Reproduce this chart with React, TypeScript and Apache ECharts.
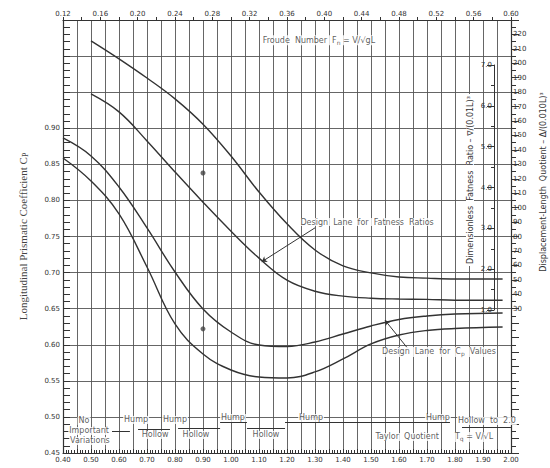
import React, { useEffect, useRef } from 'react';
import * as echarts from 'echarts';

// Taylor quotient Tq = V/√L along the bottom, Froude number Fn = V/√gL along the top
// Design-lane curves for the dimensionless fatness ratio ∇/(0.01L)³ (inner right scale)
const fatnessUpper: [number, number][] = [
  [0.5, 7.59], [0.6, 7.15], [0.7, 6.68], [0.8, 6.17], [0.9, 5.55], [1.0, 4.77],
  [1.1, 3.89], [1.2, 3.11], [1.3, 2.47], [1.4, 2.08], [1.5, 1.91], [1.6, 1.81],
  [1.7, 1.78], [1.8, 1.76], [1.97, 1.76],
];
const fatnessLower: [number, number][] = [
  [0.5, 6.29], [0.6, 5.85], [0.7, 5.14], [0.8, 4.38], [0.9, 3.64], [1.0, 2.93],
  [1.1, 2.27], [1.2, 1.73], [1.3, 1.46], [1.4, 1.34], [1.5, 1.29], [1.6, 1.27],
  [1.7, 1.26], [1.8, 1.24], [1.97, 1.24],
];

// Design-lane curves for the longitudinal prismatic coefficient Cp
const cpUpper: [number, number][] = [
  [0.4, 0.8865], [0.5, 0.8616], [0.6, 0.8186], [0.7, 0.7618], [0.8, 0.7008], [0.9, 0.6496],
  [1.0, 0.6177], [1.1, 0.5997], [1.2, 0.5976], [1.3, 0.6038], [1.4, 0.6149], [1.5, 0.626],
  [1.6, 0.635], [1.7, 0.6399], [1.8, 0.6426], [1.97, 0.644],
];
const cpLower: [number, number][] = [
  [0.4, 0.8588], [0.5, 0.8269], [0.6, 0.7812], [0.7, 0.7078], [0.8, 0.6288], [0.9, 0.5872],
  [1.0, 0.565], [1.1, 0.5553], [1.2, 0.554], [1.3, 0.5623], [1.4, 0.5803], [1.5, 0.6011],
  [1.6, 0.6135], [1.7, 0.6198], [1.8, 0.6225], [1.97, 0.6246],
];

// Plotted reference points (Tq, Cp)
const markedPoints: [number, number][] = [[0.9, 0.838], [0.9, 0.622]];

// Scale ranges
const tqRange = [0.4, 2.0];
const fnRange = [0.12, 0.6];
const cpRange = [0.45, 1.05];
const fatnessRange = [-2.5, 8.1];
const fatnessScale = [1, 7];
const displacementRange = [-70, 230];
const displacementLabelled = [30, 220];

// Hump / hollow zones along the bottom strip: [Tq start, Tq end, Cp level]
const zoneRules: [number, number, number][] = [
  [0.575, 0.639, 0.4805],
  [0.668, 0.782, 0.4833],
  [0.811, 0.961, 0.4847],
  [0.961, 1.057, 0.493],
  [1.057, 1.193, 0.4847],
  [1.193, 1.782, 0.493],
  [1.825, 2.0, 0.4861],
];

// Lettering: [text, Tq, Cp]
const lettering: [string, number, number][] = [
  ['Froude  Number  F{s|n} = V/√gL', 1.314, 1.022],
  ['Design  Lane  for  Fatness  Ratios', 1.486, 0.77],
  ['Design  Lane  for  C{s|p}  Values', 1.743, 0.59],
  ['No', 0.475, 0.4944],
  ['Important', 0.493, 0.4805],
  ['Variations', 0.496, 0.4667],
  ['Hump', 0.661, 0.4958],
  ['Hump', 0.8, 0.4958],
  ['Hump', 1.007, 0.4985],
  ['Hollow', 0.729, 0.475],
  ['Hollow', 0.875, 0.475],
  ['Hollow', 1.125, 0.475],
  ['Hump', 1.286, 0.4985],
  ['Hump', 1.739, 0.4985],
  ['Hollow  to  2.0', 1.914, 0.4944],
  ['Taylor  Quotient', 1.629, 0.4722],
  ['T{s|q} = V/√L', 1.868, 0.4722],
];

// Leader arrows: [from Tq, from Cp, to Tq, to Cp]
const leaders: [number, number, number, number][] = [
  [1.3, 0.762, 1.11, 0.715],
  [1.63, 0.5955, 1.55, 0.634],
];

const ink = '#333333';
const gridInk = '#555555';
const letterFont = 'DejaVu Sans';

const subStyle = { fontSize: 6, padding: [4, 0, 0, 0], fontFamily: letterFont, color: ink };

function curve(data: [number, number][], yAxisIndex: number) {
  return {
    type: 'line',
    xAxisIndex: 0,
    yAxisIndex,
    data,
    symbol: 'none',
    smooth: 0.4,
    lineStyle: { color: ink, width: 1.4 },
    z: 5,
  };
}

function buildOption() {
  return {
    animation: false,
    backgroundColor: '#ffffff',
    grid: [
      { left: 63, right: 39, top: 20, bottom: 15, containLabel: false, outerBoundsMode: 'none' },
      { left: 494, width: 10, top: 65, height: 245, containLabel: false, outerBoundsMode: 'none' },
    ],
    xAxis: [
      {
        type: 'value',
        gridIndex: 0,
        position: 'bottom',
        min: tqRange[0],
        max: tqRange[1],
        interval: 0.05,
        axisLine: { show: true, onZero: false, lineStyle: { color: ink, width: 1.2 } },
        axisTick: { show: true, inside: true, length: 4, lineStyle: { color: ink } },
        minorTick: { show: true, splitNumber: 5, length: 3, lineStyle: { color: ink } },
        axisLabel: {
          fontSize: 7,
          color: ink,
          margin: 3,
          fontFamily: letterFont,
          hideOverlap: false,
          showMinLabel: true,
          showMaxLabel: true,
          formatter: (v: number) => (Math.round(v * 100) % 10 === 0 ? v.toFixed(2) : ''),
        },
        splitLine: { show: true, lineStyle: { color: gridInk, width: 0.9 } },
      },
      {
        type: 'value',
        gridIndex: 0,
        position: 'top',
        min: fnRange[0],
        max: fnRange[1],
        interval: 0.04,
        axisLine: { show: true, onZero: false, lineStyle: { color: ink, width: 1.2 } },
        axisTick: { show: true, length: 3, lineStyle: { color: ink } },
        minorTick: { show: true, splitNumber: 2, length: 3, lineStyle: { color: ink } },
        axisLabel: {
          fontSize: 7,
          color: ink,
          margin: 3,
          fontFamily: letterFont,
          hideOverlap: false,
          showMinLabel: true,
          showMaxLabel: true,
          formatter: (v: number) => v.toFixed(2),
        },
        splitLine: { show: false },
      },
      { type: 'value', gridIndex: 1, show: false, min: 0, max: 1 },
    ],
    yAxis: [
      {
        type: 'value',
        gridIndex: 0,
        position: 'left',
        min: cpRange[0],
        max: cpRange[1],
        interval: 0.05,
        axisLine: { show: true, onZero: false, lineStyle: { color: ink, width: 1.2 } },
        axisTick: { show: true, inside: true, length: 7, lineStyle: { color: ink } },
        minorTick: { show: true, splitNumber: 5, length: 7, lineStyle: { color: ink } },
        axisLabel: {
          fontSize: 7,
          color: ink,
          margin: 3,
          fontFamily: letterFont,
          hideOverlap: false,
          showMinLabel: true,
          formatter: (v: number) => (v <= 0.9001 ? v.toFixed(2) : ''),
        },
        splitLine: { show: true, lineStyle: { color: gridInk, width: 0.9 } },
        name: 'Longitudinal Prismatic Coefficient C{s|P}',
        nameLocation: 'middle',
        nameRotate: 90,
        nameGap: 34,
        nameTextStyle: {
          fontFamily: 'Liberation Serif',
          fontSize: 11,
          color: '#444',
          rich: { s: { fontSize: 8, padding: [5, 0, 0, 0], fontFamily: 'Liberation Serif', color: '#444' } },
        },
      },
      {
        type: 'value',
        gridIndex: 0,
        position: 'right',
        min: displacementRange[0],
        max: displacementRange[1],
        interval: 10,
        axisLine: { show: true, onZero: false, lineStyle: { color: ink, width: 1.2 } },
        axisTick: { show: true, length: 8, lineStyle: { color: ink } },
        minorTick: { show: true, splitNumber: 2, length: 5, lineStyle: { color: ink } },
        axisLabel: {
          fontSize: 7,
          color: ink,
          margin: 2,
          fontFamily: letterFont,
          hideOverlap: false,
          formatter: (v: number) =>
            v >= displacementLabelled[0] - 0.01 && v <= displacementLabelled[1] + 0.01 ? String(Math.round(v)) : '',
        },
        splitLine: { show: false },
      },
      {
        type: 'value',
        gridIndex: 0,
        position: 'right',
        show: false,
        min: fatnessRange[0],
        max: fatnessRange[1],
      },
      {
        type: 'value',
        gridIndex: 1,
        position: 'left',
        min: fatnessScale[0],
        max: fatnessScale[1],
        interval: 1,
        axisLine: { show: true, onZero: false, lineStyle: { color: ink, width: 1 } },
        axisTick: { show: true, length: 7, lineStyle: { color: ink } },
        minorTick: { show: true, splitNumber: 2, length: 3, lineStyle: { color: ink } },
        axisLabel: {
          fontSize: 7,
          color: ink,
          margin: 2,
          fontFamily: letterFont,
          hideOverlap: false,
          showMinLabel: true,
          showMaxLabel: true,
          formatter: (v: number) => v.toFixed(1),
        },
        splitLine: { show: false },
      },
    ],
    graphic: [
      {
        type: 'text',
        x: 470,
        y: 180,
        rotation: Math.PI / 2,
        z: 10,
        style: {
          text: 'Dimensionless  Fatness  Ratio – ∇/(0.01L)³',
          fontFamily: letterFont,
          fontSize: 8,
          fill: ink,
          align: 'center',
          verticalAlign: 'middle',
          backgroundColor: '#fff',
          padding: [0, 2],
        },
      },
      {
        type: 'text',
        x: 543,
        y: 182,
        rotation: Math.PI / 2,
        style: {
          text: 'Displacement-Length  Quotient – Δ/(0.010L)³',
          fontFamily: letterFont,
          fontSize: 8,
          fill: ink,
          align: 'center',
          verticalAlign: 'middle',
        },
      },
    ],
    series: [
      curve(fatnessUpper, 2),
      curve(fatnessLower, 2),
      curve(cpUpper, 0),
      curve(cpLower, 0),
      {
        type: 'scatter',
        xAxisIndex: 0,
        yAxisIndex: 0,
        data: markedPoints,
        symbolSize: 5,
        itemStyle: { color: '#444' },
        z: 6,
      },
      {
        type: 'lines',
        coordinateSystem: 'cartesian2d',
        xAxisIndex: 0,
        yAxisIndex: 0,
        polyline: false,
        symbol: ['none', 'none'],
        lineStyle: { color: ink, width: 1, opacity: 1 },
        data: zoneRules.map(([a, b, c]) => ({ coords: [[a, c], [b, c]] })),
        z: 6,
      },
      {
        type: 'lines',
        coordinateSystem: 'cartesian2d',
        xAxisIndex: 0,
        yAxisIndex: 0,
        polyline: false,
        symbol: ['none', 'arrow'],
        symbolSize: 5,
        lineStyle: { color: ink, width: 1, opacity: 1 },
        data: leaders.map(([x1, y1, x2, y2]) => ({ coords: [[x1, y1], [x2, y2]] })),
        z: 7,
      },
      {
        type: 'scatter',
        xAxisIndex: 0,
        yAxisIndex: 0,
        symbolSize: 0,
        silent: true,
        z: 8,
        data: lettering.map(([t, x, y]) => ({ name: t, value: [x, y] })),
        label: {
          show: true,
          position: 'inside',
          formatter: (p: any) => p.name,
          fontFamily: letterFont,
          fontSize: 8,
          color: ink,
          backgroundColor: '#fff',
          padding: [0, 1],
          rich: { s: subStyle },
        },
      },
    ],
  };
}

export default function App() {
  const ref = useRef<HTMLDivElement>(null);
  useEffect(() => {
    const chart = echarts.init(ref.current!, undefined, { renderer: 'svg' });
    chart.setOption(buildOption() as any);
    return () => chart.dispose();
  }, []);
  return <div ref={ref} style={{ position: 'absolute', left: 0, top: 0, width: 550, height: 468 }} />;
}
